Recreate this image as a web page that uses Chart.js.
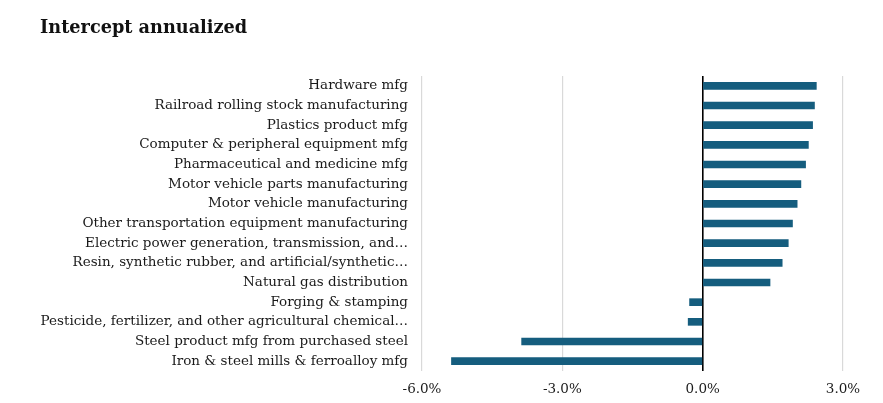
<!DOCTYPE html>
<html>
<head>
<meta charset="utf-8">
<script src="https://cdn.jsdelivr.net/npm/chart.js@4.4.1/dist/chart.umd.min.js"></script>
<style>
  html, body { margin: 0; padding: 0; background: #fff; }
  #wrap { position: relative; width: 883px; height: 403px; }
  #title {
    position: absolute; left: 40px; top: 16px;
    font-family: "DejaVu Serif", serif; font-weight: bold; font-size: 17.7px; color: #111;
  }
</style>
</head>
<body>
<div id="wrap">
  <div id="title">Intercept annualized</div>
  <canvas id="chart" width="883" height="403"></canvas>
</div>
<script>
// Industry labels, top to bottom
const industries = [
  'Hardware mfg',
  'Railroad rolling stock manufacturing',
  'Plastics product mfg',
  'Computer & peripheral equipment mfg',
  'Pharmaceutical and medicine mfg',
  'Motor vehicle parts manufacturing',
  'Motor vehicle manufacturing',
  'Other transportation equipment manufacturing',
  'Electric power generation, transmission, and\u2026',
  'Resin, synthetic rubber, and artificial/synthetic\u2026',
  'Natural gas distribution',
  'Forging & stamping',
  'Pesticide, fertilizer, and other agricultural chemical\u2026',
  'Steel product mfg from purchased steel',
  'Iron & steel mills & ferroalloy mfg'
];

// Intercept annualized, in percent
const intercepts = [2.43, 2.39, 2.35, 2.26, 2.20, 2.10, 2.02, 1.92, 1.83, 1.70, 1.44, -0.28, -0.31, -3.87, -5.37];

const axisMin = -6;
const axisMax = 3;
const axisStep = 3;

const serif = '"DejaVu Serif", serif';

const ctx = document.getElementById('chart').getContext('2d');
new Chart(ctx, {
  type: 'bar',
  data: {
    labels: industries,
    datasets: [{
      data: intercepts,
      backgroundColor: '#155d7e',
      barThickness: 7
    }]
  },
  options: {
    indexAxis: 'y',
    responsive: false,
    animation: false,
    layout: { padding: { top: 76, right: 40, bottom: 0, left: 0 } },
    plugins: {
      legend: { display: false },
      tooltip: { enabled: false }
    },
    scales: {
      x: {
        min: axisMin,
        max: axisMax,
        ticks: {
          stepSize: axisStep,
          padding: 10,
          color: '#1a1a1a',
          font: { family: serif, size: 13.5 },
          callback: v => v.toFixed(1) + '%'
        },
        grid: {
          drawTicks: false,
          color: c => c.tick && c.tick.value === 0 ? '#000' : '#d9d9d9',
          lineWidth: c => c.tick && c.tick.value === 0 ? 1.6 : 1.2
        },
        border: { display: false },
        afterFit: s => { s.height = 32; }
      },
      y: {
        ticks: {
          autoSkip: false,
          padding: 14,
          color: '#1a1a1a',
          font: { family: serif, size: 13.5 }
        },
        grid: { display: false, drawTicks: false },
        border: { display: false },
        afterFit: s => { s.width = 422; }
      }
    }
  }
});
</script>
</body>
</html>
